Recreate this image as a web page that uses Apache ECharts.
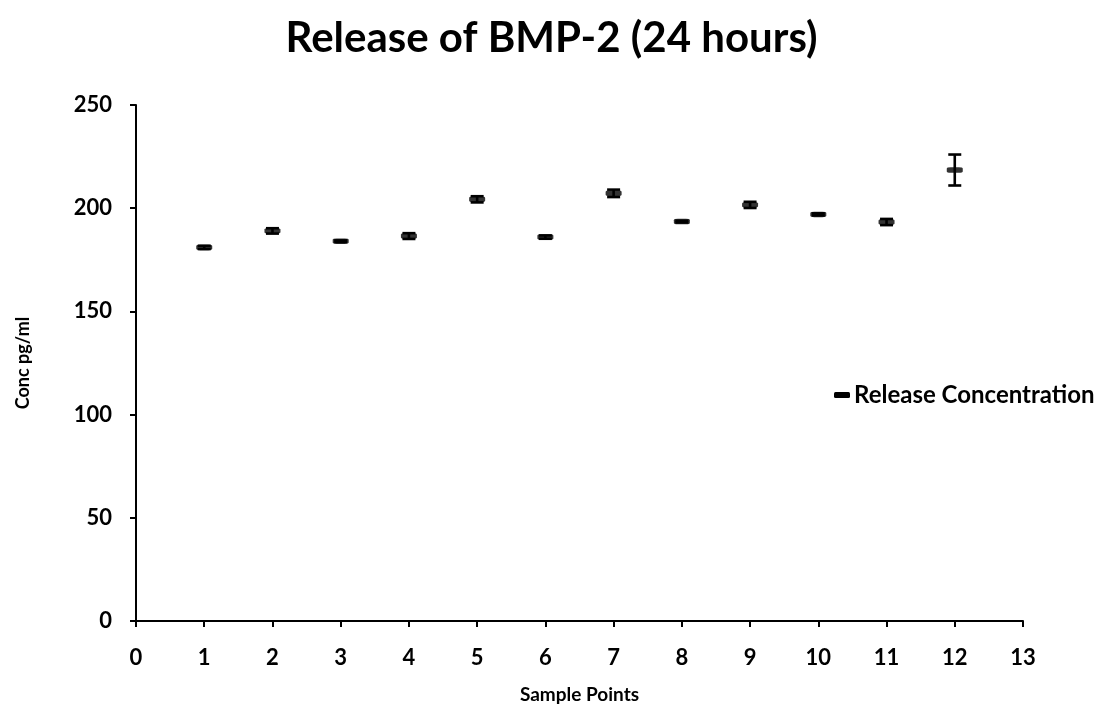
<!DOCTYPE html>
<html>
<head>
<meta charset="utf-8">
<script src="https://cdn.jsdelivr.net/npm/echarts@6/dist/echarts.min.js"></script>
<style>
  html, body { margin: 0; padding: 0; background: #fff; }
  #chart { width: 1103px; height: 706px; }
</style>
</head>
<body>
<div id="chart"></div>
<script>
// Sample points and measured BMP-2 release (pg/ml) with standard error
const samplePoints = [1, 2, 3, 4, 5, 6, 7, 8, 9, 10, 11, 12];
const releaseConc = [181, 189, 184, 186.5, 204.3, 186, 207.2, 193.5, 201.6, 197, 193.3, 218.5];
const releaseErr  = [0.8, 1.3, 0.4, 1.4, 1.5, 0.8, 1.8, 0.4, 1.5, 0.5, 1.5, 7.5];

const FONT = 'Lato';

const chart = echarts.init(document.getElementById('chart'), null, { renderer: 'canvas' });

const points = samplePoints.map((x, i) => [x, releaseConc[i]]);
const errBars = samplePoints.map((x, i) => [x, releaseConc[i] - releaseErr[i], releaseConc[i] + releaseErr[i]]);

chart.setOption({
  backgroundColor: '#ffffff',
  animation: false,
  title: {
    text: 'Release of BMP-2 (24 hours)',
    left: 'center',
    top: 12,
    textStyle: { fontFamily: FONT, fontWeight: 'bold', fontSize: 42, color: '#000' }
  },
  legend: {
    data: ['Release Concentration'],
    orient: 'vertical',
    left: 829,
    top: 378,
    icon: 'roundRect',
    itemWidth: 16,
    itemHeight: 6,
    itemStyle: { color: '#000', borderWidth: 0, opacity: 1 },
    textStyle: { fontFamily: FONT, fontWeight: 'bold', fontSize: 24, color: '#000', padding: [0, 0, 0, -1] }
  },
  grid: { left: 136, right: 80, top: 105, bottom: 85, outerBoundsMode: 'none', containLabel: false },
  xAxis: {
    type: 'value',
    min: 0,
    max: 13,
    interval: 1,
    name: 'Sample Points',
    nameLocation: 'middle',
    nameGap: 64,
    nameTextStyle: { fontFamily: FONT, fontWeight: 'bold', fontSize: 19, color: '#000' },
    axisLine: { lineStyle: { color: '#000', width: 2 } },
    axisTick: { show: true, inside: false, length: 6, lineStyle: { color: '#000', width: 2 } },
    axisLabel: { margin: 26, fontFamily: FONT, fontWeight: 'bold', fontSize: 22, color: '#000' },
    splitLine: { show: false }
  },
  yAxis: {
    type: 'value',
    min: 0,
    max: 250,
    interval: 50,
    name: 'Conc pg/ml',
    nameLocation: 'middle',
    nameGap: 104,
    nameRotate: 90,
    nameTextStyle: { fontFamily: FONT, fontWeight: 'bold', fontSize: 18, color: '#000' },
    axisLine: { show: true, lineStyle: { color: '#000', width: 2 } },
    axisTick: { show: true, inside: false, length: 6, lineStyle: { color: '#000', width: 2 } },
    axisLabel: { margin: 24, fontFamily: FONT, fontWeight: 'bold', fontSize: 22, color: '#000' },
    splitLine: { show: false }
  },
  series: [
    {
      name: 'Release Concentration',
      type: 'scatter',
      data: points,
      symbol: 'roundRect',
      symbolSize: [16, 5.5],
      itemStyle: { color: '#000' },
      z: 3
    },
    {
      name: 'Error',
      type: 'custom',
      data: errBars,
      z: 4,
      renderItem: function (params, api) {
        const x = api.value(0);
        const top = api.coord([x, api.value(2)]);
        const bot = api.coord([x, api.value(1)]);
        const hw = 6.5;
        const st = { stroke: '#000', lineWidth: 2.6 };
        return {
          type: 'group',
          children: [
            { type: 'line', shape: { x1: top[0], y1: top[1], x2: bot[0], y2: bot[1] }, style: st },
            { type: 'line', shape: { x1: top[0] - hw, y1: top[1], x2: top[0] + hw, y2: top[1] }, style: st },
            { type: 'line', shape: { x1: bot[0] - hw, y1: bot[1], x2: bot[0] + hw, y2: bot[1] }, style: st }
          ]
        };
      }
    }
  ]
});
</script>
</body>
</html>
